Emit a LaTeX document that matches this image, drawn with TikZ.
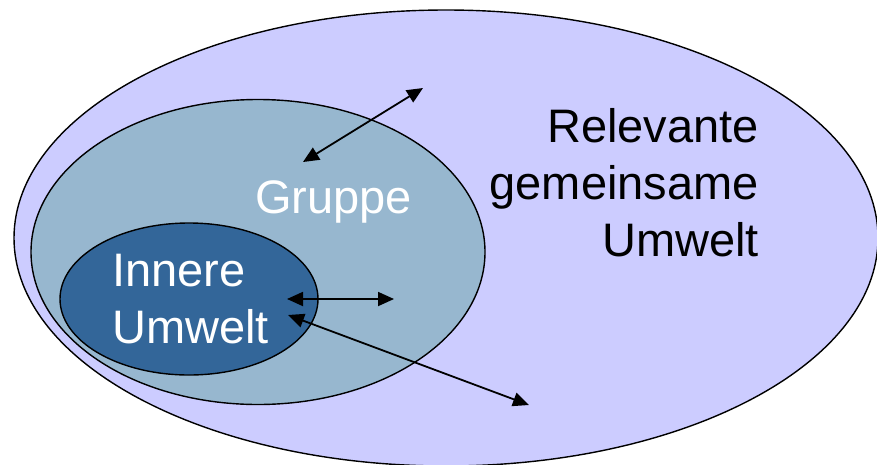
\documentclass[tikz,border=0pt]{standalone}
\usepackage{fontspec}
\setmainfont{Liberation Sans}
\usetikzlibrary{shapes.geometric,arrows.meta}
\definecolor{outerfill}{RGB}{204,204,255}
\definecolor{midfill}{RGB}{151,183,207}
\definecolor{innerfill}{RGB}{51,102,153}
\tikzset{
  ell/.style={ellipse,draw=black,line width=1.4pt,inner sep=0pt},
  lbl/.style={inner sep=0pt,font=\fontsize{47}{57}\selectfont},
  dblarrow/.style={line width=1.8pt,{Triangle[length=16pt,width=14pt]}-{Triangle[length=16pt,width=14pt]}}
}
\begin{document}
\begin{tikzpicture}[x=1pt,y=-1pt]
\useasboundingbox (0,0) rectangle (877,464);
\begin{scope}
\clip (0,0) rectangle (877,464);
\node[ell,fill=outerfill,minimum width=864pt,minimum height=456pt] (outer) at (446,238) {};
\end{scope}
\node[ell,fill=midfill,minimum width=454pt,minimum height=305pt] (group) at (258,252) {};
\node[ell,fill=innerfill,minimum width=258pt,minimum height=152pt] (inner) at (189,299) {};
\node[lbl,anchor=base east,align=right] (rel) at (759,256) {Relevante\\gemeinsame\\Umwelt};
\node[lbl,anchor=base west,text=white] (grp) at (255,213) {Gruppe};
\node[lbl,anchor=base west,align=left,text=white] (inn) at (112,343) {Innere\\Umwelt};
\coordinate (a1) at (303,162);
\coordinate (a2) at (423,88);
\coordinate (b1) at (287,299);
\coordinate (b2) at (394,299);
\coordinate (c1) at (288,315);
\coordinate (c2) at (529,405);
\draw[dblarrow] (a1) -- (a2);
\draw[dblarrow] (b1) -- (b2);
\draw[dblarrow] (c1) -- (c2);
\end{tikzpicture}
\end{document}
